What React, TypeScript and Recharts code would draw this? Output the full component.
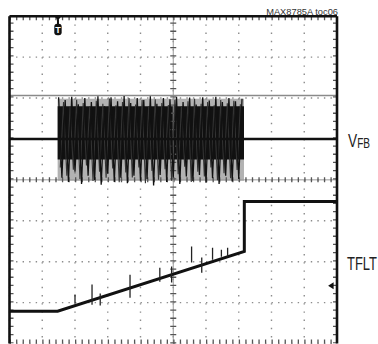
import React from 'react';
import {
  ComposedChart,
  Line,
  Area,
  XAxis,
  YAxis,
  CartesianGrid,
  ReferenceLine,
  ReferenceDot,
  Customized,
} from 'recharts';

// Screen units: time in divisions (10 across), level in divisions (8 up the screen)
const divTicksX = [0, 1, 2, 3, 4, 5, 6, 7, 8, 9, 10];
const divTicksY = [0, 1, 2, 3, 4, 5, 6, 7, 8];

const triggerTime = 1.48;

// VFB channel: flat level, then the switching burst
const vfbTime = [0, 10];
const vfbLevel = [5.0, 5.0];

const burstEdgeTime = [1.47, 7.16];
const burstCoreLow = [4.5, 4.5];
const burstCoreHigh = [5.8, 5.8];
const burstHazeLow = [3.98, 3.98];
const burstHazeHigh = [5.98, 5.98];

const burstTime = [
  1.5, 1.6, 1.7, 1.8, 1.9, 2.0, 2.1, 2.2, 2.3, 2.4, 2.5, 2.6, 2.7, 2.8, 2.9,
  3.0, 3.1, 3.2, 3.3, 3.4, 3.5, 3.6, 3.7, 3.8, 3.9, 4.0, 4.1, 4.2, 4.3, 4.4,
  4.5, 4.6, 4.7, 4.8, 4.9, 5.0, 5.1, 5.2, 5.3, 5.4, 5.5, 5.6, 5.7, 5.8, 5.9,
  6.0, 6.1, 6.2, 6.3, 6.4, 6.5, 6.6, 6.7, 6.8, 6.9, 7.0, 7.1,
];
const burstLevel = [
  6.02, 4.05, 5.95, 3.95, 6.03, 4.2, 5.85, 3.9, 6.0, 4.1, 5.9, 4.0, 6.04, 3.88, 5.8,
  4.15, 6.02, 3.95, 5.92, 4.05, 6.05, 3.92, 5.88, 4.1, 6.0, 3.98, 5.95, 4.02, 6.04, 3.86,
  5.86, 4.12, 6.0, 3.95, 5.97, 4.05, 6.03, 3.9, 5.9, 4.08, 6.01, 3.97, 5.84, 4.12, 6.02,
  3.93, 5.94, 4.04, 6.03, 3.9, 5.9, 4.1, 6.0, 3.96, 5.92, 4.02, 5.98,
];

// second pass of the burst, interleaved with the first
const burstTimeB = [
  1.55, 1.65, 1.75, 1.85, 1.95, 2.05, 2.15, 2.25, 2.35, 2.45, 2.55, 2.65, 2.75, 2.85,
  2.95, 3.05, 3.15, 3.25, 3.35, 3.45, 3.55, 3.65, 3.75, 3.85, 3.95, 4.05, 4.15, 4.25,
  4.35, 4.45, 4.55, 4.65, 4.75, 4.85, 4.95, 5.05, 5.15, 5.25, 5.35, 5.45, 5.55, 5.65,
  5.75, 5.85, 5.95, 6.05, 6.15, 6.25, 6.35, 6.45, 6.55, 6.65, 6.75, 6.85, 6.95, 7.05,
];
const burstLevelB = [
  4.3, 5.9, 4.1, 5.78, 4.25, 5.96, 4.02, 5.88, 4.35, 5.8, 3.97, 5.93, 4.2, 5.86,
  4.05, 5.99, 4.28, 5.82, 3.94, 5.9, 4.18, 6.0, 4.06, 5.84, 4.3, 5.95, 3.92, 5.8,
  4.22, 5.97, 4.0, 5.88, 4.26, 5.83, 3.98, 5.96, 4.14, 5.8, 4.32, 5.92, 3.95, 5.98,
  4.2, 5.86, 4.08, 5.9, 4.3, 5.82, 3.99, 5.95, 4.16, 5.87, 4.04, 5.93, 4.24, 5.85,
];

// TFLT channel: ramps while the fault timer runs, then steps up
const tfltTime = [0, 1.47, 7.17, 7.17, 10];
const tfltLevel = [0.79, 0.79, 2.25, 3.47, 3.47];

// switching glitches riding on the TFLT ramp
const glitchTime = [2.0, 2.52, 2.77, 3.68, 4.59, 4.95, 5.56, 5.87, 6.2, 6.47, 6.66];
const glitchLow = [0.98, 0.95, 0.93, 1.12, 1.51, 1.49, 1.98, 1.73, 2.05, 2.12, 2.12];
const glitchHigh = [1.2, 1.44, 1.22, 1.68, 1.85, 1.88, 2.37, 2.1, 2.34, 2.29, 2.34];

const limitLevel = 6.06;
const groundMarker = { t: 9.82, level: 1.41 };

const toPoints = (xs: number[], ys: number[]) => xs.map((t, i) => ({ t, v: ys[i] }));

const vfbData = toPoints(vfbTime, vfbLevel);
const burstData = toPoints(burstTime, burstLevel);
const burstDataB = toPoints(burstTimeB, burstLevelB);
const tfltData = toPoints(tfltTime, tfltLevel);
const coreData = burstEdgeTime.map((t, i) => ({ t, lo: burstCoreLow[i], hi: burstCoreHigh[i] }));
const hazeData = burstEdgeTime.map((t, i) => ({ t, lo: burstHazeLow[i], hi: burstHazeHigh[i] }));
const glitchData = glitchTime.flatMap((t, i) => [
  { t, v: glitchLow[i] },
  { t, v: glitchHigh[i] },
  { t, v: null },
]);

const TriggerFlag = (props: any) => {
  const { cx, cy } = props;
  return (
    <g>
      <path d={`M${cx - 3.5},${cy} L${cx + 3.5},${cy} L${cx},${cy + 4} Z`} fill="#111" />
      <rect x={cx - 1} y={cy + 3} width={2} height={5} fill="#111" />
      <rect x={cx - 3.7} y={cy + 7.5} width={7.4} height={11.5} rx={3} fill="#111" />
      <text x={cx} y={cy + 16.5} textAnchor="middle" fontSize={9} fontWeight="bold" fill="#fff" fontFamily="'Liberation Sans', Arial, sans-serif">
        T
      </text>
    </g>
  );
};

const GroundArrow = (props: any) => {
  const { cx, cy } = props;
  return <path d={`M${cx - 3},${cy} L${cx + 2.5},${cy - 3.5} L${cx + 2.5},${cy + 3.5} Z`} fill="#111" />;
};

const sans = "'Liberation Sans', Arial, sans-serif";

// channel names use a condensed face, squeezed horizontally
const ScreenLabels = () => (
  <g>
    <text x={338} y={14.5} textAnchor="end" fontSize={9.3} fill="#333" fontFamily={sans}>
      MAX8785A toc06
    </text>
    <g transform="translate(348,147) scale(0.72,1)">
      <text x={0} y={0} fill="#222" fontFamily={sans}>
        <tspan fontSize={19}>V</tspan>
        <tspan fontSize={14} dy={1}>FB</tspan>
      </text>
    </g>
    <g transform="translate(347,270) scale(0.72,1)">
      <text x={0} y={0} fontSize={18} fill="#222" fontFamily={sans}>
        TFLT
      </text>
    </g>
  </g>
);

export default function App() {
  return (
    <div style={{ width: 378, height: 344 }}>
      <style>{'body { margin: 0; }'}</style>
      <ComposedChart width={378} height={344} margin={{ top: 16.2, right: 41, bottom: 0.5, left: 9.5 }}>
        <XAxis type="number" dataKey="t" domain={[0, 10]} ticks={divTicksX} allowDataOverflow hide />
        <YAxis type="number" domain={[0, 8]} ticks={divTicksY} allowDataOverflow hide />

        {/* dotted graticule */}
        <CartesianGrid vertical={false} stroke="#8c8c8c" strokeWidth={1.4} strokeDasharray="1.4 5.15" />
        <CartesianGrid horizontal={false} stroke="#8c8c8c" strokeWidth={1.4} strokeDasharray="1.4 6.8" />

        {/* centre axes with minor ticks */}
        <ReferenceLine y={4} stroke="#9a9a9a" strokeWidth={1} />
        <ReferenceLine y={4} stroke="#555" strokeWidth={5} strokeDasharray="1.3 5.25" />
        <ReferenceLine x={5} stroke="#9a9a9a" strokeWidth={1} />
        <ReferenceLine x={5} stroke="#555" strokeWidth={6} strokeDasharray="1.3 6.9" />

        {/* edge ticks pointing inward */}
        <ReferenceLine y={8} stroke="#555" strokeWidth={8} strokeDasharray="1.3 5.25" ifOverflow="hidden" />
        <ReferenceLine y={0} stroke="#555" strokeWidth={8} strokeDasharray="1.3 5.25" ifOverflow="hidden" />
        <ReferenceLine x={0} stroke="#555" strokeWidth={8} strokeDasharray="1.3 6.9" ifOverflow="hidden" />
        <ReferenceLine x={10} stroke="#555" strokeWidth={8} strokeDasharray="1.3 6.9" ifOverflow="hidden" />

        <ReferenceLine y={limitLevel} stroke="#8a8a8a" strokeWidth={1.6} />

        <Area data={hazeData} dataKey={(d: any) => [d.lo, d.hi]} type="linear" stroke="none" fill="#555" fillOpacity={0.45} isAnimationActive={false} />
        <Area data={coreData} dataKey={(d: any) => [d.lo, d.hi]} type="linear" stroke="none" fill="#111" fillOpacity={1} isAnimationActive={false} />
        <Line data={burstDataB} dataKey="v" type="linear" stroke="#333" strokeWidth={1.1} dot={false} activeDot={false} isAnimationActive={false} />
        <Line data={burstData} dataKey="v" type="linear" stroke="#111" strokeWidth={1.3} dot={false} activeDot={false} isAnimationActive={false} />
        <Line data={vfbData} dataKey="v" type="linear" stroke="#111" strokeWidth={2.6} dot={false} activeDot={false} isAnimationActive={false} />

        <Line data={tfltData} dataKey="v" type="linear" stroke="#111" strokeWidth={3} dot={false} activeDot={false} isAnimationActive={false} />
        <Line data={glitchData} dataKey="v" type="linear" stroke="#222" strokeWidth={1.3} dot={false} activeDot={false} isAnimationActive={false} />

        {/* screen frame */}
        <ReferenceLine x={0} stroke="#111" strokeWidth={2.6} ifOverflow="visible" />
        <ReferenceLine x={10} stroke="#111" strokeWidth={2.6} ifOverflow="visible" />
        <ReferenceLine y={8} stroke="#111" strokeWidth={2.6} ifOverflow="visible" />

        <ReferenceDot x={triggerTime} y={8} r={0} shape={TriggerFlag} ifOverflow="visible" />
        <ReferenceDot x={groundMarker.t} y={groundMarker.level} r={0} shape={GroundArrow} ifOverflow="visible" />

        <Customized component={ScreenLabels} />
      </ComposedChart>
    </div>
  );
}
